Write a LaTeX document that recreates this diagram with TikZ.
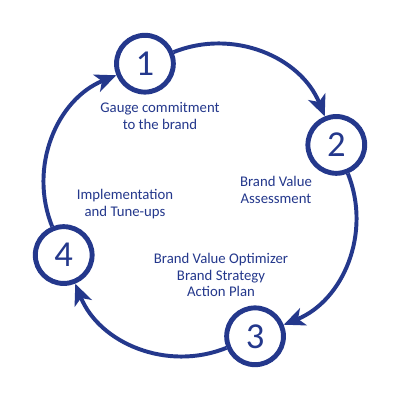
\documentclass[tikz,border=0pt]{standalone}
\usepackage{fontspec}
\setmainfont{Carlito}
\usetikzlibrary{arrows.meta}
\definecolor{ringblue}{RGB}{36,56,140}

\begin{document}
\begin{tikzpicture}[
        num/.style={circle, draw=ringblue, line width=3.5pt, minimum size=1.42cm,
          inner sep=0pt, text=ringblue, font=\fontsize{26}{26}\selectfont},
        arc/.style={draw=ringblue, line width=2.8pt,
          -{Stealth[length=15pt, width=13pt, inset=4pt]}},
        lab/.style={text=ringblue, align=center, font=\fontsize{10.5}{11.5}\selectfont}
      ]
        \useasboundingbox[fill=white] (-5,-5) rectangle (5,5);
        \node[num] (c1) at (112:3.675) {1};
        \node[num] (c2) at (22:3.675) {2};
        \node[num] (c3) at (-68:3.675) {3};
        \node[num] (c4) at (202:3.675) {4};

        \draw[arc] (c1) to[bend left=45] (c2);
        \draw[arc] (c2) to[bend left=45] (c3);
        \draw[arc] (c3) to[bend left=45] (c4);
        \draw[arc] (c4) to[bend left=45] (c1);

        \node[lab] (l1) at (-1.0,2.1) {Gauge commitment\\to the brand};
        \node[lab] (l2) at (1.9,0.25) {Brand Value\\Assessment};
        \node[lab] (l3) at (0.525,-1.875) {Brand Value Optimizer\\Brand Strategy\\Action Plan};
        \node[lab] (l4) at (-1.875,-0.1) {Implementation\\and Tune-ups};
      \end{tikzpicture}
\end{document}
